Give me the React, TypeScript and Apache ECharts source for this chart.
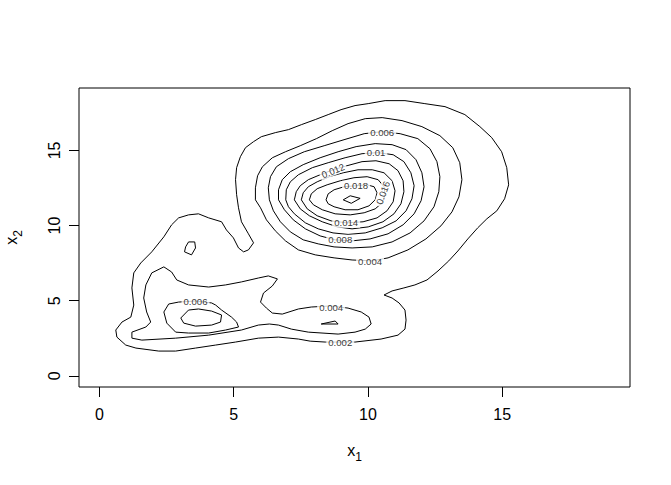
import React, { useEffect, useRef } from "react";
import * as echarts from "echarts";

const FONT = "'Liberation Sans', Arial, Helvetica, sans-serif";

const xTicks = [0, 5, 10, 15];
const yTicks = [0, 5, 10, 15];

// contour level 0.002 (outer envelope)
const contour002 = [
  [0.65, 2.58], [0.61, 3.05], [0.84, 3.58], [1.17, 3.91], [1.28, 4.71], [1.21, 5.85], [1.28, 6.85],
  [1.54, 7.51], [1.95, 8.25], [2.4, 9.25], [2.69, 10.05], [2.95, 10.51], [3.32, 10.71], [3.69, 10.78],
  [4.07, 10.51], [4.55, 10.25], [4.73, 9.71], [4.99, 9.18], [5.18, 8.51], [5.37, 8.25], [5.55, 8.38],
  [5.74, 8.85], [5.55, 9.45], [5.29, 10.25], [5.18, 11.18], [5.11, 12.05], [5.07, 13.05], [5.11, 13.85],
  [5.25, 14.58], [5.44, 15.18], [5.74, 15.58], [6.03, 15.91], [6.55, 16.18], [7.04, 16.38], [7.52, 16.71],
  [8.04, 17.05], [8.52, 17.38], [9.0, 17.71], [9.52, 17.98], [10.01, 18.11], [10.64, 18.31], [11.38, 18.31],
  [12.12, 18.11], [12.87, 17.91], [13.61, 17.38], [14.17, 16.58], [14.61, 15.85], [14.98, 14.91],
  [15.17, 13.85], [15.24, 12.71], [15.09, 11.78], [14.8, 10.98], [14.43, 10.45], [14.09, 9.85],
  [13.72, 9.11], [13.35, 8.31], [13.01, 7.65], [12.61, 6.98], [12.2, 6.38], [11.75, 6.05], [11.34, 5.85],
  [10.9, 5.65], [10.6, 5.38], [10.9, 5.18], [11.16, 4.85], [11.38, 4.38], [11.42, 3.71], [11.38, 3.11],
  [11.12, 2.71], [10.49, 2.45], [9.52, 2.25], [8.41, 2.25], [7.85, 2.31], [7.41, 2.45], [6.67, 2.58],
  [5.92, 2.51], [5.07, 2.25], [4.33, 2.05], [3.58, 1.85], [2.84, 1.65], [2.21, 1.65], [1.36, 1.85],
  [0.98, 2.05], [0.65, 2.58]
];

// contour level 0.004
const contour004Peak = [
  [5.81, 11.71], [5.81, 12.51], [5.89, 13.31], [6.07, 13.91], [6.44, 14.51], [6.93, 14.91], [7.48, 15.31],
  [8.08, 15.78], [8.67, 16.31], [9.26, 16.78], [9.9, 17.11], [10.53, 17.18], [11.27, 16.98], [12.01, 16.58],
  [12.68, 15.98], [13.16, 15.18], [13.42, 14.18], [13.5, 13.05], [13.39, 11.91], [13.13, 10.91],
  [12.72, 9.98], [12.16, 9.11], [11.49, 8.38], [10.75, 7.85], [10.16, 7.65], [9.41, 7.71], [8.74, 7.85],
  [8.04, 8.05], [7.41, 8.38], [6.93, 8.98], [6.55, 9.65], [6.22, 10.38], [6.0, 11.18], [5.81, 11.71]
];
const contour004Low = [
  [1.21, 2.91], [1.73, 3.25], [1.91, 3.58], [1.76, 4.25], [1.65, 5.18], [1.73, 6.05], [1.95, 6.85],
  [2.4, 7.25], [2.69, 6.91], [2.88, 6.38], [3.32, 6.05], [4.07, 5.91], [4.7, 6.05], [5.29, 6.25],
  [5.92, 6.51], [6.29, 6.65], [6.63, 6.45], [6.44, 5.98], [6.11, 5.51], [6.0, 4.91], [6.22, 4.51],
  [6.44, 4.18], [6.81, 4.11], [7.41, 4.45], [7.89, 4.58], [8.59, 4.65], [9.26, 4.51], [9.75, 4.25],
  [10.04, 3.91], [10.12, 3.45], [9.9, 3.11], [9.52, 2.91], [8.89, 2.78], [7.78, 2.91], [7.15, 3.11],
  [6.67, 3.38], [6.33, 3.45], [5.92, 3.38], [5.29, 3.05], [4.07, 2.71], [2.84, 2.51], [1.58, 2.38],
  [1.21, 2.51], [1.21, 2.91]
];
const contour004Island = [
  [3.32, 8.91], [3.55, 8.91], [3.58, 8.51], [3.43, 8.05], [3.17, 8.25], [3.21, 8.58], [3.32, 8.91]
];

// contour level 0.006
const contour006Peak = [
  [6.33, 11.71], [6.29, 12.51], [6.37, 13.25], [6.59, 13.91], [7.04, 14.45], [7.63, 14.91], [8.37, 15.31],
  [9.11, 15.71], [9.86, 16.11], [10.53, 16.25], [11.2, 16.11], [11.86, 15.78], [12.31, 15.11],
  [12.57, 14.25], [12.68, 13.25], [12.64, 12.25], [12.46, 11.25], [12.09, 10.31], [11.57, 9.51],
  [10.9, 8.91], [10.16, 8.58], [9.41, 8.51], [8.74, 8.58], [8.15, 8.78], [7.59, 9.05], [7.11, 9.58],
  [6.74, 10.25], [6.48, 10.98], [6.33, 11.71]
];
const contour006Low = [
  [2.95, 4.91], [2.58, 4.78], [2.4, 4.25], [2.51, 3.51], [2.84, 2.91], [3.32, 2.85], [4.07, 2.85],
  [4.7, 3.05], [5.18, 3.25], [5.11, 3.58], [4.92, 3.91], [4.55, 4.38], [4.33, 4.71], [4.18, 4.85],
  [3.58, 4.98], [2.95, 4.91]
];
const contour006Small = [[8.26, 3.45], [8.78, 3.65], [8.89, 3.45], [8.26, 3.45]];

// contour level 0.008
const contour008Peak = [
  [6.67, 11.71], [6.67, 12.38], [6.81, 13.05], [7.11, 13.58], [7.59, 14.05], [8.22, 14.51], [8.89, 14.91],
  [9.56, 15.25], [10.27, 15.45], [10.9, 15.38], [11.42, 15.05], [11.79, 14.38], [12.01, 13.51],
  [12.09, 12.58], [11.98, 11.65], [11.72, 10.78], [11.31, 10.05], [10.75, 9.45], [10.08, 9.11],
  [9.41, 8.98], [8.78, 9.05], [8.22, 9.31], [7.67, 9.78], [7.22, 10.38], [6.89, 11.05], [6.67, 11.71]
];
const contour008Low = [
  [3.32, 4.38], [3.03, 3.85], [3.14, 3.51], [3.58, 3.31], [4.18, 3.38], [4.51, 3.58], [4.55, 4.05],
  [4.18, 4.31], [3.69, 4.45], [3.32, 4.38]
];

// contour level 0.010
const contour010 = [
  [6.94, 11.71], [6.96, 12.38], [7.11, 12.91], [7.41, 13.38], [7.93, 13.85], [8.52, 14.18], [9.15, 14.51],
  [9.78, 14.78], [10.38, 14.85], [10.94, 14.71], [11.34, 14.25], [11.6, 13.51], [11.72, 12.65],
  [11.64, 11.78], [11.42, 10.98], [11.05, 10.31], [10.53, 9.85], [9.9, 9.51], [9.26, 9.41], [8.7, 9.51],
  [8.15, 9.78], [7.67, 10.18], [7.26, 10.78], [7.04, 11.25], [6.94, 11.71]
];

// contour level 0.012
const contour012 = [
  [7.26, 11.71], [7.33, 12.25], [7.48, 12.65], [7.78, 13.05], [8.22, 13.38], [8.7, 13.71], [9.22, 13.98],
  [9.78, 14.25], [10.3, 14.31], [10.79, 14.11], [11.12, 13.65], [11.31, 12.98], [11.34, 12.25],
  [11.23, 11.45], [10.97, 10.78], [10.56, 10.25], [10.01, 9.91], [9.41, 9.78], [8.86, 9.91], [8.3, 10.25],
  [7.82, 10.65], [7.48, 11.11], [7.26, 11.71]
];

// contour level 0.014
const contour014 = [
  [7.52, 11.71], [7.59, 12.18], [7.78, 12.58], [8.11, 12.91], [8.55, 13.25], [9.08, 13.51], [9.63, 13.71],
  [10.16, 13.71], [10.6, 13.51], [10.9, 12.98], [11.01, 12.31], [10.94, 11.58], [10.71, 10.98],
  [10.34, 10.51], [9.82, 10.25], [9.22, 10.18], [8.63, 10.31], [8.11, 10.65], [7.74, 11.11], [7.52, 11.71]
];

// contour level 0.016
const contour016 = [
  [7.82, 11.71], [7.89, 12.11], [8.11, 12.45], [8.48, 12.71], [8.97, 12.98], [9.48, 13.18], [9.97, 13.25],
  [10.38, 13.05], [10.6, 12.58], [10.64, 12.05], [10.53, 11.51], [10.27, 11.11], [9.86, 10.85],
  [9.34, 10.71], [8.78, 10.78], [8.3, 11.05], [7.97, 11.38], [7.82, 11.71]
];

// contour level 0.018
const contour018 = [
  [8.44, 11.71], [8.52, 12.11], [8.74, 12.38], [9.11, 12.58], [9.56, 12.65], [9.97, 12.71], [10.23, 12.58],
  [10.34, 12.18], [10.27, 11.71], [10.04, 11.31], [9.63, 11.05], [9.15, 11.05], [8.74, 11.25],
  [8.52, 11.45], [8.44, 11.71]
];

// contour level 0.020 (tiny summit)
const contour020 = [[9.08, 11.71], [9.34, 11.98], [9.71, 11.81], [9.38, 11.48], [9.08, 11.71]];

const contourPaths = [
  contour002, contour004Peak, contour004Low, contour004Island, contour006Peak, contour006Low,
  contour006Small, contour008Peak, contour008Low, contour010, contour012, contour014, contour016,
  contour018, contour020
];

// contour labels
const labelTexts = ["0.002", "0.004", "0.004", "0.006", "0.006", "0.008", "0.01", "0.012", "0.014", "0.016", "0.018"];
const labelX = [8.97, 8.63, 10.08, 3.58, 10.53, 8.97, 10.3, 8.7, 9.19, 10.56, 9.56];
const labelY = [2.25, 4.58, 7.58, 4.98, 16.18, 9.05, 14.85, 13.65, 10.18, 12.18, 12.65];
const labelAngle = [0, 0, 0, 0, 0, 0, 0, 22, 0, 70, 0];

export default function App() {
  const ref = useRef<HTMLDivElement>(null);
  useEffect(() => {
    if (!ref.current) return;
    const chart = echarts.init(ref.current, null, { renderer: "svg" });
    const lineSeries = contourPaths.map((p) => ({
      type: "line",
      data: p,
      showSymbol: false,
      symbol: "none",
      silent: true,
      z: 2,
      lineStyle: { color: "#000", width: 1 },
    }));
    const labelSeries = {
      type: "scatter",
      z: 5,
      silent: true,
      symbolSize: 0.1,
      itemStyle: { color: "rgba(0,0,0,0)" },
      label: {
        show: true,
        position: "inside",
        fontSize: 9.6,
        fontFamily: FONT,
        color: "#000",
        backgroundColor: "#fff",
        padding: [0, 2],
      },
      data: labelTexts.map((t, i) => ({
        value: [labelX[i], labelY[i]],
        label: { formatter: t, rotate: labelAngle[i] },
      })),
    };
    const titleRich = {
      a: { fontSize: 16, color: "#000", fontFamily: FONT, padding: [0, 0, 5, 0] },
      b: { fontSize: 12, color: "#000", fontFamily: FONT, verticalAlign: "bottom" },
    };
    chart.setOption({
      animation: false,
      backgroundColor: "#fff",
      textStyle: { fontFamily: FONT },
      grid: {
        left: 79,
        right: 41,
        top: 88,
        bottom: 98,
        outerBoundsMode: "none",
        containLabel: false,
        show: true,
        borderColor: "#000",
        borderWidth: 1,
        backgroundColor: "transparent",
      },
      xAxis: {
        type: "value",
        min: -0.76,
        max: 19.76,
        axisLine: { show: false, onZero: false },
        splitLine: { show: false },
        axisTick: { show: true, length: 10, customValues: xTicks, lineStyle: { color: "#000" } },
        axisLabel: { show: true, customValues: xTicks, margin: 19, fontSize: 16, color: "#000", fontFamily: FONT },
        name: "{a|x}{b|1}",
        nameLocation: "middle",
        nameGap: 55,
        nameTextStyle: { rich: titleRich },
      },
      yAxis: {
        type: "value",
        min: -0.74,
        max: 19.15,
        axisLine: { show: false, onZero: false },
        splitLine: { show: false },
        axisTick: { show: true, length: 10, customValues: yTicks, lineStyle: { color: "#000" } },
        axisLabel: { show: true, customValues: yTicks, margin: 17, rotate: 90, fontSize: 16, color: "#000", fontFamily: FONT },
        name: "{a|x}{b|2}",
        nameLocation: "middle",
        nameGap: 55,
        nameTextStyle: { rich: titleRich },
      },
      series: [...lineSeries, labelSeries],
    });
    return () => chart.dispose();
  }, []);
  return (
    <div
      ref={ref}
      style={{ position: "fixed", left: 0, top: 0, width: 671, height: 485, background: "#fff" }}
    />
  );
}
